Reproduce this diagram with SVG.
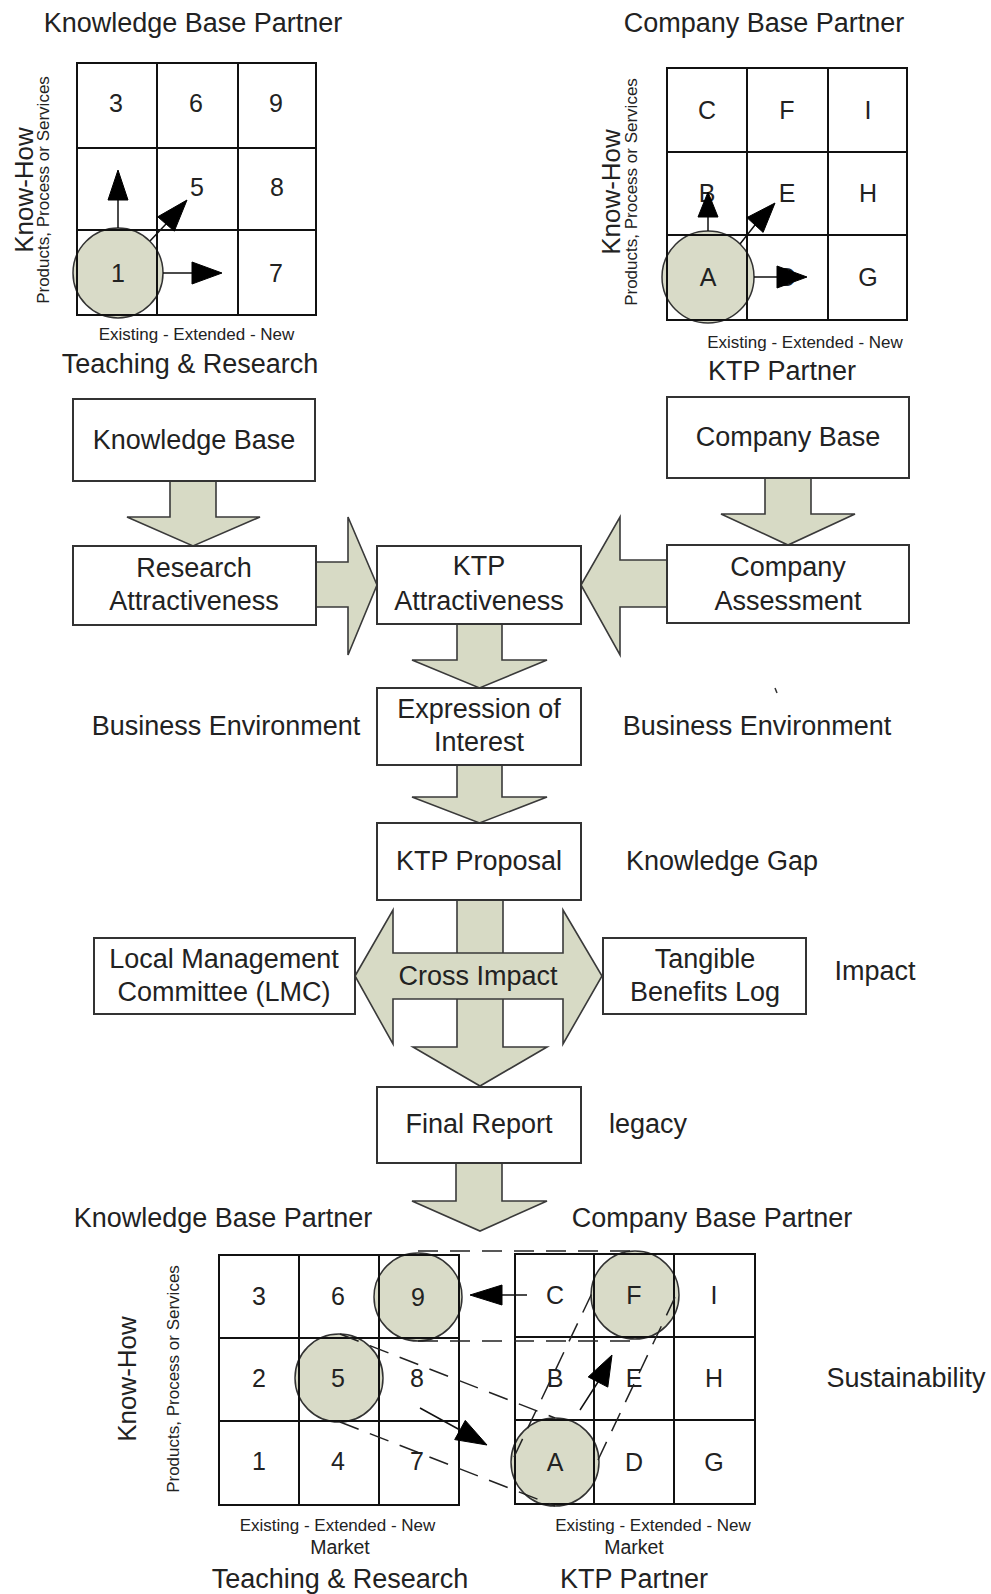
<svg xmlns="http://www.w3.org/2000/svg" width="991" height="1594" viewBox="0 0 991 1594">
<style>
text{font-family:"Liberation Sans",Arial,sans-serif;font-size:27px;fill:#222;text-anchor:middle}
.s{font-size:17px}
.m{font-size:19.5px}
.g{font-size:25px}
.kh{font-size:26px}
.box{fill:#fff;stroke:#333;stroke-width:2}
.blk{fill:#d7dac5;stroke:#3a3a3a;stroke-width:1.6;stroke-linejoin:miter}
.grid{fill:none;stroke:#111;stroke-width:2}
.circ{fill:#d9dbc8;stroke:#333;stroke-width:1.5}
.ln{stroke:#111;stroke-width:1.5;fill:none}
.hd{fill:#000;stroke:#000;stroke-width:1}
.dash{stroke:#222;stroke-width:1.5;stroke-dasharray:20 12;fill:none}
</style>

<!-- Top-left matrix -->
<g id="kb-matrix-top">
  <text x="193" y="32">Knowledge Base Partner</text>
  <circle class="circ" cx="118" cy="273" r="45"/>
  <rect class="grid" x="77" y="63" width="239" height="252"/>
  <path class="grid" d="M157,63V315M238,63V315M77,148H316M77,230H316"/>
  <text class="g" x="116" y="112">3</text>
  <text class="g" x="196" y="112">6</text>
  <text class="g" x="276" y="112">9</text>
  <text class="g" x="197" y="196">5</text>
  <text class="g" x="277" y="196">8</text>
  <text class="g" x="118" y="282">1</text>
  <text class="g" x="276" y="282">7</text>
  <text class="kh" transform="translate(33,190) rotate(-90)">Know-How</text>
  <text class="s" transform="translate(49,190) rotate(-90)">Products, Process or Services</text>
  <text class="s" x="196.5" y="340">Existing - Extended - New</text>
  <text x="190" y="373">Teaching &amp; Research</text>
</g>

<!-- Top-right matrix -->
<g id="cb-matrix-top">
  <text x="764" y="32">Company Base Partner</text>
  <circle class="circ" cx="708" cy="277" r="46"/>
  <rect class="grid" x="667" y="68" width="240" height="252"/>
  <path class="grid" d="M747,68V320M828,68V320M667,152H907M667,235H907"/>
  <text class="g" x="707" y="119">C</text>
  <text class="g" x="787" y="119">F</text>
  <text class="g" x="868" y="119">I</text>
  <text class="g" x="707" y="202">B</text>
  <text class="g" x="787" y="202">E</text>
  <text class="g" x="868" y="202">H</text>
  <text class="g" x="708" y="286">A</text>
  <text class="g" x="787" y="286">D</text>
  <text class="g" x="868" y="286">G</text>
  <text class="kh" transform="translate(620,192) rotate(-90)">Know-How</text>
  <text class="s" transform="translate(637,192) rotate(-90)">Products, Process or Services</text>
  <text class="s" x="805" y="348">Existing - Extended - New</text>
  <text x="782" y="380">KTP Partner</text>
</g>

<!-- Connectors -->
<g id="connectors">
  <path class="ln" d="M118,228V200M150,241L166,224M163,273H192"/>
  <polygon class="hd" points="118,170 108,200 128,200"/>
  <polygon class="hd" points="187,200 174.3,231.2 157.7,216.8"/>
  <polygon class="hd" points="222,273 192,262 192,284"/>
  <path class="ln" d="M708,231V217M740,244L755,225M754,277H777"/>
  <polygon class="hd" points="708,192 698,217 718,217"/>
  <polygon class="hd" points="775,203 763.1,232.4 746.9,217.6"/>
  <polygon class="hd" points="807,277 777,266 777,288"/>

  <polygon class="blk" points="170,481 170,517 127,517 193,546 260,517 216,517 216,481"/>
  <polygon class="blk" points="765,478 765,514 721,514 788,545 855,514 811,514 811,478"/>
  <polygon class="blk" points="316,562 348,562 348,517 377,585 348,655 348,607 316,607"/>
  <polygon class="blk" points="667,560 620,560 620,517 581,585 620,655 620,607 667,607"/>
  <polygon class="blk" points="457,624 457,660 412,660 479.5,688 547,660 502,660 502,624"/>
  <polygon class="blk" points="457,765 457,797 412,797 479.5,823 547,797 502,797 502,765"/>
  <polygon class="blk" points="457,900 457,1047 413,1047 480,1086 547,1047 503,1047 503,900"/>
  <polygon class="blk" points="355,976 393,910 393,953 563,953 563,910 602,976 563,1044 563,999 393,999 393,1044"/>
  <polygon class="blk" points="456,1163 456,1201 412,1201 480,1231 547,1201 502,1201 502,1163"/>
</g>

<!-- Boxes -->
<g id="knowledge-base">
  <rect class="box" x="73" y="399" width="242" height="82"/>
  <text x="194" y="449">Knowledge Base</text>
</g>
<g id="company-base">
  <rect class="box" x="667" y="397" width="242" height="81"/>
  <text x="788" y="446">Company Base</text>
</g>
<g id="research-attractiveness">
  <rect class="box" x="73" y="546" width="243" height="79"/>
  <text x="194" y="577">Research</text>
  <text x="194" y="610">Attractiveness</text>
</g>
<g id="ktp-attractiveness">
  <rect class="box" x="377" y="546" width="204" height="78"/>
  <text x="479" y="575">KTP</text>
  <text x="479" y="610">Attractiveness</text>
</g>
<g id="company-assessment">
  <rect class="box" x="667" y="545" width="242" height="78"/>
  <text x="788" y="576">Company</text>
  <text x="788" y="610">Assessment</text>
</g>
<g id="business-env-left">
  <text x="226" y="735">Business Environment</text>
</g>
<g id="expression-of-interest">
  <rect class="box" x="377" y="688" width="204" height="77"/>
  <text x="479" y="718">Expression of</text>
  <text x="479" y="751">Interest</text>
</g>
<g id="business-env-right">
  <text x="757" y="735">Business Environment</text>
  <path d="M775,688L777,693" stroke="#333" stroke-width="1.5"/>
</g>
<g id="ktp-proposal">
  <rect class="box" x="377" y="823" width="204" height="77"/>
  <text x="479" y="870">KTP Proposal</text>
</g>
<g id="knowledge-gap">
  <text x="722" y="870">Knowledge Gap</text>
</g>
<g id="lmc">
  <rect class="box" x="94" y="938" width="261" height="76"/>
  <text x="224" y="968">Local Management</text>
  <text x="224" y="1001">Committee (LMC)</text>
</g>
<g id="cross-impact">
  <text x="478" y="985">Cross Impact</text>
</g>
<g id="tangible-benefits">
  <rect class="box" x="603" y="938" width="203" height="76"/>
  <text x="705" y="968">Tangible</text>
  <text x="705" y="1001">Benefits Log</text>
</g>
<g id="impact">
  <text x="875" y="980">Impact</text>
</g>
<g id="final-report">
  <rect class="box" x="377" y="1087" width="204" height="76"/>
  <text x="479" y="1133">Final Report</text>
</g>
<g id="legacy">
  <text x="648" y="1133">legacy</text>
</g>

<!-- Bottom-left matrix -->
<g id="kb-matrix-bottom">
  <text x="223" y="1227">Knowledge Base Partner</text>
  <circle class="circ" cx="418" cy="1297" r="44"/>
  <circle class="circ" cx="339" cy="1378" r="44"/>
  <rect class="grid" x="219" y="1255" width="240" height="250"/>
  <path class="grid" d="M299,1255V1505M379,1255V1505M219,1338H459M219,1421H459"/>
  <text class="g" x="259" y="1305">3</text>
  <text class="g" x="338" y="1305">6</text>
  <text class="g" x="418" y="1306">9</text>
  <text class="g" x="259" y="1387">2</text>
  <text class="g" x="338" y="1387">5</text>
  <text class="g" x="417" y="1387">8</text>
  <text class="g" x="259" y="1470">1</text>
  <text class="g" x="338" y="1470">4</text>
  <text class="g" x="417" y="1470">7</text>
  <text class="kh" transform="translate(136,1379) rotate(-90)">Know-How</text>
  <text class="s" transform="translate(179,1379) rotate(-90)">Products, Process or Services</text>
  <text class="s" x="337.5" y="1531">Existing - Extended - New</text>
  <text class="m" x="340" y="1554">Market</text>
  <text x="340" y="1588">Teaching &amp; Research</text>
</g>

<!-- Bottom-right matrix -->
<g id="cb-matrix-bottom">
  <text x="712" y="1227">Company Base Partner</text>
  <circle class="circ" cx="635" cy="1295" r="44"/>
  <circle class="circ" cx="555" cy="1462" r="44"/>
  <rect class="grid" x="515" y="1254" width="240" height="250"/>
  <path class="grid" d="M594,1254V1504M674,1254V1504M515,1337H755M515,1420H755"/>
  <text class="g" x="555" y="1304">C</text>
  <text class="g" x="634" y="1304">F</text>
  <text class="g" x="714" y="1304">I</text>
  <text class="g" x="555" y="1387">B</text>
  <text class="g" x="634" y="1387">E</text>
  <text class="g" x="714" y="1387">H</text>
  <text class="g" x="555" y="1471">A</text>
  <text class="g" x="634" y="1471">D</text>
  <text class="g" x="714" y="1471">G</text>
  <text class="s" x="653" y="1531">Existing - Extended - New</text>
  <text class="m" x="634" y="1554">Market</text>
  <text x="634" y="1588">KTP Partner</text>
</g>

<g id="sustainability">
  <text x="906" y="1387">Sustainability</text>
</g>

<!-- Bottom connectors -->
<g id="bottom-connectors">
  <path class="dash" d="M418,1251H635M418,1341H635"/>
  <path class="dash" d="M340,1334L555,1418M340,1422L555,1506"/>
  <path class="dash" d="M514,1457L593,1291M598,1460L677,1293"/>
  <path class="ln" d="M527,1295H502M420,1408L460,1430M580,1410L598,1382"/>
  <polygon class="hd" points="470,1295 502,1285 502,1305"/>
  <polygon class="hd" points="487,1445 454.7,1439.6 465.3,1420.4"/>
  <polygon class="hd" points="612,1355 607.8,1387.1 588.2,1376.9"/>
</g>
</svg>
